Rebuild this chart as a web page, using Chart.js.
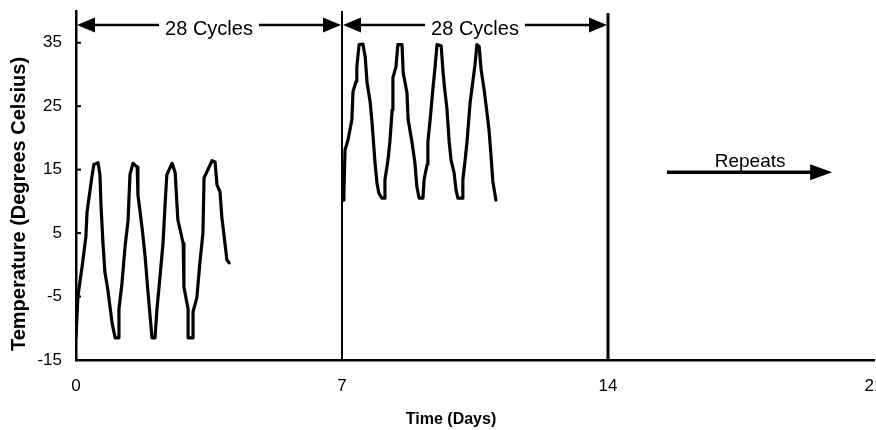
<!DOCTYPE html>
<html>
<head>
<meta charset="utf-8">
<script src="https://cdn.jsdelivr.net/npm/chart.js@4.4.1/dist/chart.umd.min.js"></script>
<style>
  html, body { margin: 0; padding: 0; background: #fff; overflow: hidden; }
  #wrap { position: relative; width: 884px; height: 430px; }
</style>
</head>
<body>
<div id="wrap"><canvas id="grafico"></canvas></div>
<script>
// Cold phase: cycling between about -12 and 16 degrees
const phase1Days = [0, 0.05, 0.16, 0.26, 0.29, 0.37, 0.42, 0.47, 0.58, 0.63, 0.66, 0.71, 0.76, 0.84, 0.95,
  1.03, 1.11, 1.13, 1.21, 1.29, 1.37, 1.42, 1.5, 1.61, 1.63, 1.74, 1.82, 1.89, 2.0, 2.08, 2.13, 2.21,
  2.29, 2.34, 2.39, 2.53, 2.61, 2.68, 2.82, 2.84, 2.95, 2.95, 3.08, 3.08, 3.18, 3.26, 3.34, 3.37, 3.47,
  3.58, 3.66, 3.71, 3.79, 3.84, 3.92, 3.97, 4.03];
const phase1Temp = [-11.4, -5, -0.3, 4.4, 8.3, 11.8, 13.9, 15.8, 16.1, 14.2, 9.1, 3.4, -1.1, -4, -9.2,
  -11.5, -11.5, -7, -2.9, 2.8, 7, 14.2, 16, 15.4, 11, 5.8, 1.2, -4, -11.5, -11.5, -7, -1.9,
  3.4, 9, 14.2, 16, 14.5, 7.1, 3.4, -3.5, -7, -11.5, -11.5, -7.4, -5.2, 0.3, 5, 13.7, 15,
  16.4, 16.2, 12.6, 11.5, 7.4, 3.4, 0.8, 0.3];

// Warm phase: cycling between about 10 and 35 degrees
const phase2Days = [7.03, 7.05, 7.08, 7.16, 7.26, 7.29, 7.37, 7.39, 7.45, 7.55, 7.61, 7.66, 7.74, 7.79,
  7.87, 7.92, 7.97, 8.05, 8.11, 8.13, 8.21, 8.26, 8.32, 8.34, 8.42, 8.47, 8.58, 8.61, 8.71, 8.74,
  8.84, 8.92, 8.97, 9.03, 9.13, 9.16, 9.24, 9.26, 9.32, 9.39, 9.45, 9.5, 9.61, 9.66, 9.71, 9.76,
  9.82, 9.87, 9.95, 10.0, 10.05, 10.16, 10.18, 10.24, 10.29, 10.37, 10.45, 10.5, 10.55, 10.61,
  10.66, 10.74, 10.79, 10.87, 10.92, 10.97, 11.05];
const phase2Temp = [10.2, 11.3, 18.1, 19.7, 22.9, 27.3, 28.9, 31.2, 34.7, 34.8, 32.8, 28.7, 25.7, 22.5,
  16, 12.9, 11.3, 10.5, 10.5, 13.4, 16.5, 19.4, 24.4, 29.5, 31.2, 34.7, 34.7, 30.3, 27.1, 22.9,
  19.4, 16, 12.3, 10.5, 10.5, 13.4, 15.8, 19.4, 22.9, 27.6, 31.2, 34.7, 34.5, 30.3, 27.3, 24.7,
  19.4, 16.5, 14.5, 11.8, 10.5, 10.5, 13.4, 16.5, 19.4, 25.5, 29.2, 31.5, 34.7, 34.4,
  30.8, 27.6, 25.2, 21.2, 17.3, 13.1, 10.2];

// phase boundaries (vertical markers) and how high they reach
const boundaryDays = [7, 14];
const boundaryTop = [40, 39.5];

const xTicks = [0, 7, 14, 21];
const yTicks = [-15, -5, 5, 15, 25, 35];

const spanLabel = '28 Cycles';
const repeatLabel = 'Repeats';
const xTitle = 'Time (Days)';
const yTitle = 'Temperature (Degrees Celsius)';

const FONT = '"Liberation Sans", Arial, sans-serif';

function toPoints(xs, ys) {
  return xs.map((x, i) => ({ x: x, y: ys[i] }));
}

// filled triangle, tip at (x, y), dir = 1 points right, -1 points left
function arrowHead(ctx, x, y, dir, len, half) {
  ctx.beginPath();
  ctx.moveTo(x, y);
  ctx.lineTo(x - dir * len, y - half);
  ctx.lineTo(x - dir * len, y + half);
  ctx.closePath();
  ctx.fill();
}

const notes = {
  id: 'notes',
  afterDraw(chart) {
    const { ctx, chartArea: area, scales: { x, y } } = chart;
    ctx.save();
    ctx.fillStyle = '#000';
    ctx.strokeStyle = '#000';

    // small inner ticks on the y axis
    ctx.lineWidth = 2;
    yTicks.forEach(v => {
      const py = y.getPixelForValue(v);
      ctx.beginPath();
      ctx.moveTo(area.left, py);
      ctx.lineTo(area.left + 5, py);
      ctx.stroke();
    });

    // "28 Cycles" double arrows over each phase
    const spans = [[0, boundaryDays[0]], [boundaryDays[0], boundaryDays[1]]];
    const ay = y.getPixelForValue(37.8);
    ctx.font = '20px ' + FONT;
    ctx.textAlign = 'center';
    ctx.textBaseline = 'alphabetic';
    const w = ctx.measureText(spanLabel).width;
    spans.forEach(([a, b]) => {
      const x0 = x.getPixelForValue(a) + 1;
      const x1 = x.getPixelForValue(b) - 1;
      const cx = (x0 + x1) / 2;
      ctx.lineWidth = 2.5;
      ctx.beginPath();
      ctx.moveTo(x0 + 10, ay);
      ctx.lineTo(cx - w / 2 - 6, ay);
      ctx.moveTo(cx + w / 2 + 6, ay);
      ctx.lineTo(x1 - 10, ay);
      ctx.stroke();
      arrowHead(ctx, x0, ay, -1, 18, 7.5);
      arrowHead(ctx, x1, ay, 1, 18, 7.5);
      ctx.fillText(spanLabel, cx, ay + 10);
    });

    // "Repeats" arrow
    const ry = y.getPixelForValue(14.6);
    const rx0 = x.getPixelForValue(15.55);
    const rx1 = x.getPixelForValue(19.9);
    ctx.lineWidth = 3.5;
    ctx.beginPath();
    ctx.moveTo(rx0, ry);
    ctx.lineTo(rx1 - 15, ry);
    ctx.stroke();
    arrowHead(ctx, rx1, ry, 1, 22, 8);
    ctx.font = '19px ' + FONT;
    ctx.fillText(repeatLabel, x.getPixelForValue(17.74), ry - 5);

    // axis titles
    ctx.font = 'bold 16px ' + FONT;
    ctx.fillText(xTitle, area.left + 375, area.bottom + 64);
    ctx.translate(25, area.top + 193);
    ctx.rotate(-Math.PI / 2);
    ctx.font = 'bold 20px ' + FONT;
    ctx.fillText(yTitle, 0, 0);
    ctx.restore();
  }
};

const lineStyle = {
  borderColor: '#000',
  pointRadius: 0,
  tension: 0,
  borderJoinStyle: 'round',
  borderCapStyle: 'round',
  fill: false
};

new Chart(document.getElementById('grafico'), {
  type: 'line',
  data: {
    datasets: [
      Object.assign({ data: toPoints(phase1Days, phase1Temp), borderWidth: 3.2 }, lineStyle),
      Object.assign({ data: toPoints(phase2Days, phase2Temp), borderWidth: 3.2 }, lineStyle),
      ...boundaryDays.map((d, i) => Object.assign({
        data: [{ x: d, y: -15 }, { x: d, y: boundaryTop[i] }],
        borderWidth: i === 0 ? 2 : 3
      }, lineStyle))
    ]
  },
  options: {
    responsive: true,
    maintainAspectRatio: false,
    animation: false,
    layout: { padding: { left: 35, top: 11, right: 10, bottom: 32 } },
    plugins: { legend: { display: false }, tooltip: { enabled: false } },
    scales: {
      x: {
        type: 'linear',
        min: 0,
        max: 21,
        afterBuildTicks: ax => { ax.ticks = xTicks.map(v => ({ value: v })); },
        afterFit: ax => { ax.height = 38; ax.paddingLeft = 0; ax.paddingRight = 0; },
        grid: { display: false, drawTicks: false },
        border: { display: true, color: '#000', width: 2.5 },
        ticks: { color: '#000', font: { family: FONT, size: 17 }, padding: 16, maxRotation: 0, autoSkip: false }
      },
      y: {
        min: -15,
        max: 40,
        afterBuildTicks: ax => { ax.ticks = yTicks.map(v => ({ value: v })); },
        afterFit: ax => { ax.width = 41; ax.paddingTop = 0; ax.paddingBottom = 0; },
        grid: { display: false, drawTicks: false },
        border: { display: true, color: '#000', width: 2.5 },
        ticks: { color: '#000', font: { family: FONT, size: 17 }, padding: 14 }
      }
    }
  },
  plugins: [notes]
});
</script>
</body>
</html>
